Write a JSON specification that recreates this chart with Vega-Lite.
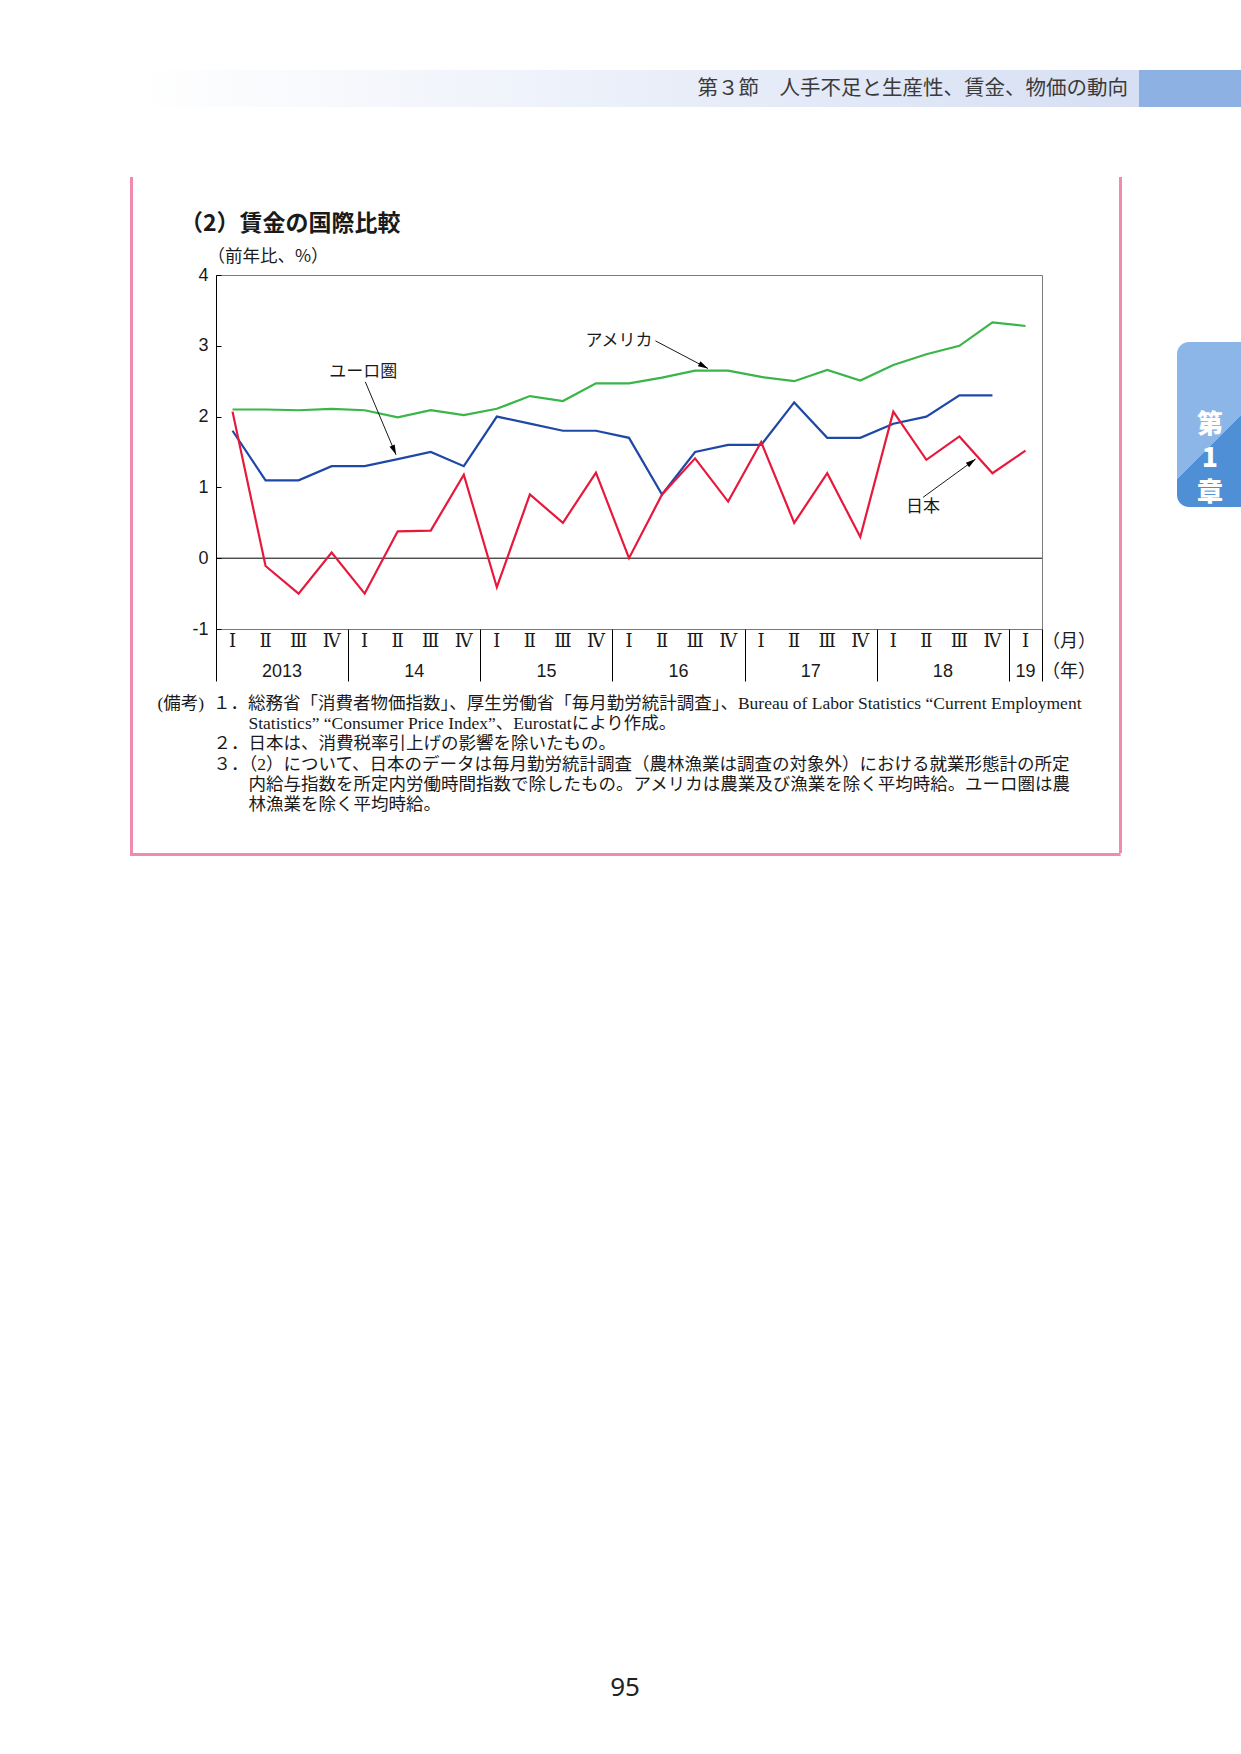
{
  "$schema": "https://vega.github.io/schema/vega-lite/v6.json",
  "background": "white",
  "padding": {"left": 130, "top": 70, "right": 0, "bottom": 0},
  "spacing": 0,
  "config": {"view": {"stroke": null}, "concat": {"spacing": 0}, "font": "Noto Sans CJK JP", "axis": {"labelOverlap": false}},
  "datasets": {
    "one": [{}],
    "wage": [
      {"t": 0, "year": "2013", "quarter": "Ⅰ", "アメリカ": 2.10, "ユーロ圏": 1.8, "日本": 2.07},
      {"t": 1, "year": "2013", "quarter": "Ⅱ", "アメリカ": 2.10, "ユーロ圏": 1.1, "日本": -0.11},
      {"t": 2, "year": "2013", "quarter": "Ⅲ", "アメリカ": 2.09, "ユーロ圏": 1.1, "日本": -0.50},
      {"t": 3, "year": "2013", "quarter": "Ⅳ", "アメリカ": 2.11, "ユーロ圏": 1.3, "日本": 0.08},
      {"t": 4, "year": "2014", "quarter": "Ⅰ", "アメリカ": 2.09, "ユーロ圏": 1.3, "日本": -0.50},
      {"t": 5, "year": "2014", "quarter": "Ⅱ", "アメリカ": 1.99, "ユーロ圏": 1.4, "日本": 0.38},
      {"t": 6, "year": "2014", "quarter": "Ⅲ", "アメリカ": 2.09, "ユーロ圏": 1.5, "日本": 0.39},
      {"t": 7, "year": "2014", "quarter": "Ⅳ", "アメリカ": 2.02, "ユーロ圏": 1.3, "日本": 1.18},
      {"t": 8, "year": "2015", "quarter": "Ⅰ", "アメリカ": 2.11, "ユーロ圏": 2.0, "日本": -0.41},
      {"t": 9, "year": "2015", "quarter": "Ⅱ", "アメリカ": 2.29, "ユーロ圏": 1.9, "日本": 0.90},
      {"t": 10, "year": "2015", "quarter": "Ⅲ", "アメリカ": 2.22, "ユーロ圏": 1.8, "日本": 0.50},
      {"t": 11, "year": "2015", "quarter": "Ⅳ", "アメリカ": 2.47, "ユーロ圏": 1.8, "日本": 1.21},
      {"t": 12, "year": "2016", "quarter": "Ⅰ", "アメリカ": 2.47, "ユーロ圏": 1.7, "日本": 0.00},
      {"t": 13, "year": "2016", "quarter": "Ⅱ", "アメリカ": 2.55, "ユーロ圏": 0.9, "日本": 0.90},
      {"t": 14, "year": "2016", "quarter": "Ⅲ", "アメリカ": 2.65, "ユーロ圏": 1.5, "日本": 1.41},
      {"t": 15, "year": "2016", "quarter": "Ⅳ", "アメリカ": 2.65, "ユーロ圏": 1.6, "日本": 0.80},
      {"t": 16, "year": "2017", "quarter": "Ⅰ", "アメリカ": 2.56, "ユーロ圏": 1.6, "日本": 1.64},
      {"t": 17, "year": "2017", "quarter": "Ⅱ", "アメリカ": 2.50, "ユーロ圏": 2.2, "日本": 0.50},
      {"t": 18, "year": "2017", "quarter": "Ⅲ", "アメリカ": 2.66, "ユーロ圏": 1.7, "日本": 1.20},
      {"t": 19, "year": "2017", "quarter": "Ⅳ", "アメリカ": 2.51, "ユーロ圏": 1.7, "日本": 0.30},
      {"t": 20, "year": "2018", "quarter": "Ⅰ", "アメリカ": 2.73, "ユーロ圏": 1.9, "日本": 2.07},
      {"t": 21, "year": "2018", "quarter": "Ⅱ", "アメリカ": 2.88, "ユーロ圏": 2.0, "日本": 1.39},
      {"t": 22, "year": "2018", "quarter": "Ⅲ", "アメリカ": 3.00, "ユーロ圏": 2.3, "日本": 1.72},
      {"t": 23, "year": "2018", "quarter": "Ⅳ", "アメリカ": 3.33, "ユーロ圏": 2.3, "日本": 1.20},
      {"t": 24, "year": "2019", "quarter": "Ⅰ", "アメリカ": 3.28, "ユーロ圏": null, "日本": 1.52}
    ],
    "annots": [
      {"label": "アメリカ", "tx": 10.68, "ty": 3.07, "ax": 12.8, "ay": 3.07, "hx": 14.39, "hy": 2.68},
      {"label": "ユーロ圏", "tx": 2.93, "ty": 2.63, "ax": 4.02, "ay": 2.49, "hx": 4.95, "hy": 1.46},
      {"label": "日本", "tx": 20.38, "ty": 0.72, "ax": 20.9, "ay": 0.86, "hx": 22.49, "hy": 1.40}
    ]
  },
  "vconcat": [
    {
      "hconcat": [
        {"width": 4, "height": 37, "data": {"name": "one"}, "mark": {"type": "rect", "opacity": 0}},
        {
          "width": 1005, "height": 37, "data": {"name": "one"},
          "layer": [
            {"mark": {"type": "rect", "color": {"gradient": "linear", "x1": 0, "y1": 0, "x2": 1, "y2": 0, "stops": [{"offset": 0, "color": "#ffffff"}, {"offset": 1, "color": "#d6dff3"}]}}},
            {"mark": {"type": "text", "text": "第３節　人手不足と生産性、賃金、物価の動向", "align": "right", "baseline": "middle", "dx": -11, "fontSize": 20.5, "font": "Noto Sans CJK JP", "color": "#3a3a3a"}, "encoding": {"x": {"value": "width"}}}
          ]
        },
        {"width": 102, "height": 37, "data": {"name": "one"}, "view": {"fill": "#8cb1e2"}, "mark": {"type": "rect", "opacity": 0}}
      ],
      "spacing": 0
    },
    {"width": 10, "height": 70, "data": {"name": "one"}, "mark": {"type": "rect", "opacity": 0}},
    {
      "hconcat": [
        {"width": 3, "height": 676, "data": {"name": "one"}, "view": {"fill": "#f28aab"}, "mark": {"type": "rect", "opacity": 0}},
        {"width": 22.7, "height": 10, "data": {"name": "one"}, "mark": {"type": "rect", "opacity": 0}},
        {
          "vconcat": [
            {"width": 902.9, "height": 34.8, "data": {"name": "one"}, "mark": {"type": "rect", "opacity": 0}},
            {
              "width": 826, "height": 354,
              "view": {"stroke": "#7a7a7a", "strokeWidth": 1},
              "title": {"text": "（2）賃金の国際比較", "anchor": "start", "frame": "group", "dx": -36, "offset": 11.3, "fontSize": 23, "fontWeight": "bold", "font": "Noto Sans CJK JP", "color": "#1a1a1a"},
              "layer": [
                {
                  "data": {"name": "one"},
                  "mark": {"type": "rule", "color": "#000000", "strokeWidth": 1},
                  "encoding": {"y": {"datum": 0, "type": "quantitative", "scale": {"domain": [-1, 4], "nice": false}}}
                },
                {
                  "data": {"name": "wage"},
                  "transform": [{"fold": ["アメリカ", "ユーロ圏", "日本"], "as": ["series", "value"]}],
                  "mark": {"type": "line", "strokeWidth": 2.2},
                  "encoding": {
                    "x": {
                      "field": "t", "type": "quantitative",
                      "scale": {"domain": [-0.5, 24.5], "nice": false, "zero": false},
                      "axis": {
                        "values": [-0.5, 3.5, 7.5, 11.5, 15.5, 19.5, 23.5, 24.5],
                        "labels": false,
                        "tickSize": 52,
                        "tickColor": "#000000",
                        "tickWidth": 1,
                        "domain": false,
                        "grid": false,
                        "title": [
                          "(備考)\u2002１．総務省「消費者物価指数」、厚生労働省「毎月勤労統計調査」、Bureau of Labor Statistics “Current Employment",
                          "\u200b　　　　　\u2009Statistics” “Consumer Price Index”、Eurostatにより作成。",
                          "\u200b　　　\u2009２．日本は、消費税率引上げの影響を除いたもの。",
                          "\u200b　　　\u2009３．（2）について、日本のデータは毎月勤労統計調査（農林漁業は調査の対象外）における就業形態計の所定",
                          "\u200b　　　　　\u2009内給与指数を所定内労働時間指数で除したもの。アメリカは農業及び漁業を除く平均時給。ユーロ圏は農",
                          "\u200b　　　　　\u2009林漁業を除く平均時給。"
                        ],
                        "titleFont": "Liberation Serif, Noto Sans CJK JP",
                        "titleFontSize": 17.5,
                        "titleFontWeight": "normal",
                        "titleColor": "#1a1a1a",
                        "titleAlign": "left",
                        "titleAnchor": "start",
                        "titleBaseline": "top",
                        "titleAngle": 0,
                        "titleX": -59,
                        "titleY": 65.4,
                        "titleLineHeight": 20.3,
                        "titleLimit": 3000
                      }
                    },
                    "y": {
                      "field": "value", "type": "quantitative",
                      "scale": {"domain": [-1, 4], "nice": false},
                      "axis": {
                        "values": [-1, 0, 1, 2, 3, 4],
                        "labelExpr": "'' + datum.value",
                        "labelFont": "Liberation Sans",
                        "labelFontSize": 18,
                        "labelColor": "#1a1a1a",
                        "labelPadding": 13,
                        "labelFlush": false,
                        "labelOverlap": false,
                        "tickSize": -5,
                        "tickColor": "#000000",
                        "domainColor": "#000000",
                        "grid": false,
                        "title": "（前年比、%）",
                        "titleAngle": 0,
                        "titleAlign": "left",
                        "titleBaseline": "middle",
                        "titleX": -9,
                        "titleY": -19,
                        "titleFont": "Noto Sans CJK JP",
                        "titleFontSize": 17.5,
                        "titleFontWeight": "normal",
                        "titleColor": "#1a1a1a"
                      }
                    },
                    "color": {
                      "field": "series", "type": "nominal",
                      "scale": {"domain": ["アメリカ", "ユーロ圏", "日本"], "range": ["#3ab54a", "#1f48a6", "#e6193c"]},
                      "legend": null
                    }
                  }
                },
                {
                  "data": {"name": "wage"},
                  "mark": {"type": "text", "align": "center", "baseline": "middle", "dy": 12.5, "fontSize": 18, "font": "DejaVu Serif, Noto Sans CJK JP", "color": "#1a1a1a"},
                  "encoding": {
                    "x": {"field": "t", "type": "quantitative", "scale": {"domain": [-0.5, 24.5], "nice": false, "zero": false}},
                    "y": {"datum": -1, "type": "quantitative", "scale": {"domain": [-1, 4], "nice": false}},
                    "text": {"field": "quarter"}
                  }
                },
                {
                  "data": {"name": "wage"},
                  "transform": [
                    {"aggregate": [{"op": "mean", "field": "t", "as": "tm"}], "groupby": ["year"]},
                    {"calculate": "datum.year == '2013' ? '2013' : slice(datum.year, 2)", "as": "yearLabel"}
                  ],
                  "mark": {"type": "text", "align": "center", "baseline": "middle", "dy": 43, "fontSize": 18, "font": "Liberation Sans, Noto Sans CJK JP", "color": "#1a1a1a"},
                  "encoding": {
                    "x": {"field": "tm", "type": "quantitative", "scale": {"domain": [-0.5, 24.5], "nice": false, "zero": false}},
                    "y": {"datum": -1, "type": "quantitative", "scale": {"domain": [-1, 4], "nice": false}},
                    "text": {"field": "yearLabel"}
                  }
                },
                {
                  "data": {"name": "one"},
                  "mark": {"type": "text", "text": "（月）", "align": "left", "baseline": "middle", "dy": 12.5, "fontSize": 18, "font": "Noto Sans CJK JP", "color": "#1a1a1a"},
                  "encoding": {
                    "x": {"datum": 24.5, "type": "quantitative", "scale": {"domain": [-0.5, 24.5], "nice": false, "zero": false}},
                    "y": {"datum": -1, "type": "quantitative", "scale": {"domain": [-1, 4], "nice": false}}
                  }
                },
                {
                  "data": {"name": "one"},
                  "mark": {"type": "text", "text": "（年）", "align": "left", "baseline": "middle", "dy": 43, "fontSize": 18, "font": "Noto Sans CJK JP", "color": "#1a1a1a"},
                  "encoding": {
                    "x": {"datum": 24.5, "type": "quantitative", "scale": {"domain": [-0.5, 24.5], "nice": false, "zero": false}},
                    "y": {"datum": -1, "type": "quantitative", "scale": {"domain": [-1, 4], "nice": false}}
                  }
                },
                {
                  "data": {"name": "annots"},
                  "mark": {"type": "text", "align": "left", "baseline": "middle", "fontSize": 17, "font": "Noto Sans CJK JP", "color": "#1a1a1a"},
                  "encoding": {
                    "x": {"field": "tx", "type": "quantitative", "scale": {"domain": [-0.5, 24.5], "nice": false, "zero": false}},
                    "y": {"field": "ty", "type": "quantitative", "scale": {"domain": [-1, 4], "nice": false}},
                    "text": {"field": "label"}
                  }
                },
                {
                  "data": {"name": "annots"},
                  "mark": {"type": "rule", "color": "#000000", "strokeWidth": 0.9},
                  "encoding": {
                    "x": {"field": "ax", "type": "quantitative", "scale": {"domain": [-0.5, 24.5], "nice": false, "zero": false}},
                    "y": {"field": "ay", "type": "quantitative", "scale": {"domain": [-1, 4], "nice": false}},
                    "x2": {"field": "hx"},
                    "y2": {"field": "hy"}
                  }
                },
                {
                  "data": {"name": "annots"},
                  "transform": [{"filter": "datum.label == 'アメリカ'"}],
                  "mark": {"type": "point", "shape": "M0,0L0.55,2L-0.55,2Z", "filled": true, "color": "#000000", "size": 100, "angle": 118, "opacity": 1, "strokeWidth": 0},
                  "encoding": {
                    "x": {"field": "hx", "type": "quantitative", "scale": {"domain": [-0.5, 24.5], "nice": false, "zero": false}},
                    "y": {"field": "hy", "type": "quantitative", "scale": {"domain": [-1, 4], "nice": false}}
                  }
                },
                {
                  "data": {"name": "annots"},
                  "transform": [{"filter": "datum.label == 'ユーロ圏'"}],
                  "mark": {"type": "point", "shape": "M0,0L0.55,2L-0.55,2Z", "filled": true, "color": "#000000", "size": 100, "angle": 157, "opacity": 1, "strokeWidth": 0},
                  "encoding": {
                    "x": {"field": "hx", "type": "quantitative", "scale": {"domain": [-0.5, 24.5], "nice": false, "zero": false}},
                    "y": {"field": "hy", "type": "quantitative", "scale": {"domain": [-1, 4], "nice": false}}
                  }
                },
                {
                  "data": {"name": "annots"},
                  "transform": [{"filter": "datum.label == '日本'"}],
                  "mark": {"type": "point", "shape": "M0,0L0.55,2L-0.55,2Z", "filled": true, "color": "#000000", "size": 100, "angle": 54, "opacity": 1, "strokeWidth": 0},
                  "encoding": {
                    "x": {"field": "hx", "type": "quantitative", "scale": {"domain": [-0.5, 24.5], "nice": false, "zero": false}},
                    "y": {"field": "hy", "type": "quantitative", "scale": {"domain": [-1, 4], "nice": false}}
                  }
                }
              ]
            }
          ],
          "spacing": 0
        },
        {"width": 3, "height": 676, "data": {"name": "one"}, "view": {"fill": "#f28aab"}, "mark": {"type": "rect", "opacity": 0}},
        {"width": 54.4, "height": 10, "data": {"name": "one"}, "mark": {"type": "rect", "opacity": 0}},
        {
          "vconcat": [
            {"width": 66, "height": 165, "data": {"name": "one"}, "mark": {"type": "rect", "opacity": 0}},
            {
              "width": 66, "height": 165, "data": {"name": "one"},
              "layer": [
                {"mark": {"type": "rect", "cornerRadiusTopLeft": 12, "cornerRadiusBottomLeft": 12, "color": {"gradient": "linear", "x1": 0, "y1": 0, "x2": 0.4, "y2": 1, "stops": [{"offset": 0, "color": "#8db6e8"}, {"offset": 0.72, "color": "#8db6e8"}, {"offset": 0.72, "color": "#4f8fd6"}, {"offset": 1, "color": "#4f8fd6"}]}}},
                {"mark": {"type": "text", "text": ["第", "1", "章"], "lineHeight": 34, "align": "center", "baseline": "middle", "fontSize": 26, "fontWeight": 900, "font": "Noto Sans CJK JP", "color": "#ffffff"}}
              ]
            }
          ],
          "spacing": 0
        }
      ],
      "spacing": 0
    },
    {"width": 990.6, "height": 3, "data": {"name": "one"}, "view": {"fill": "#f28aab"}, "mark": {"type": "rect", "opacity": 0}},
    {"width": 10, "height": 817, "data": {"name": "one"}, "mark": {"type": "rect", "opacity": 0}},
    {
      "width": 990, "height": 30, "data": {"name": "one"},
      "mark": {"type": "text", "text": "95", "fontSize": 26, "font": "Noto Sans", "color": "#222222", "align": "center", "baseline": "middle"}
    }
  ]
}
